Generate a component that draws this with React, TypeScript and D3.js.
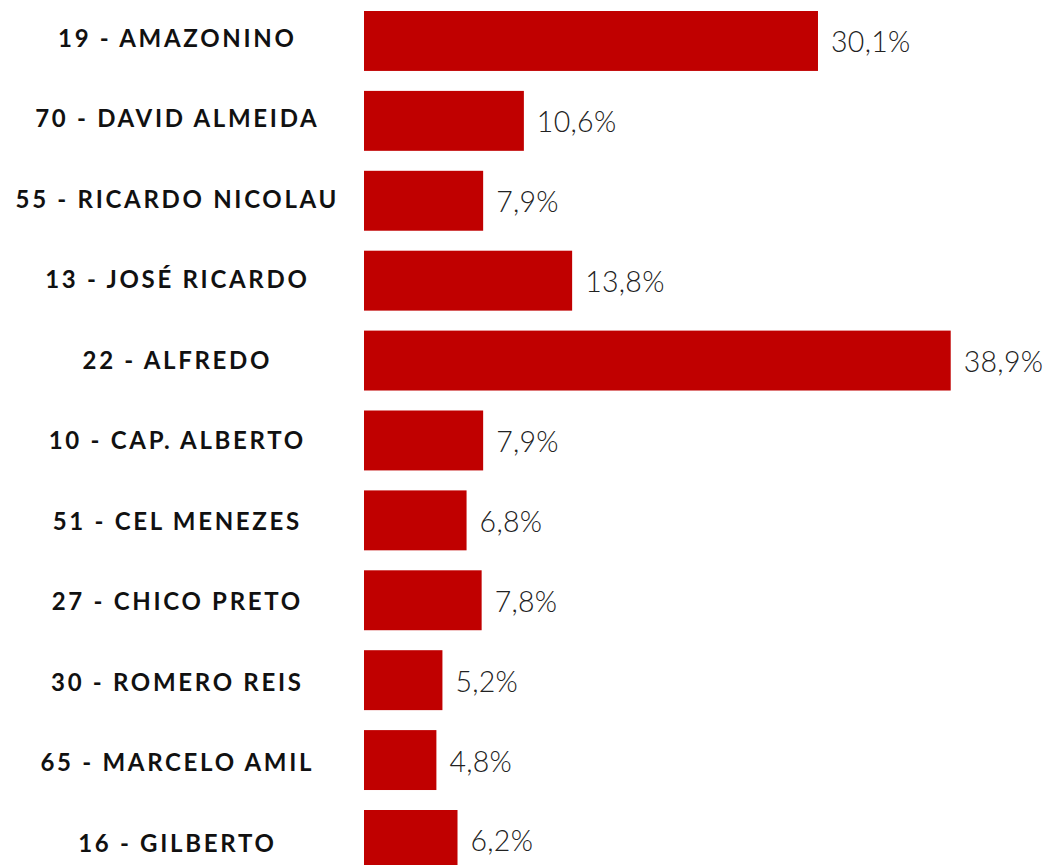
import React from "react";
import * as d3 from "d3";

const candidates = [
  "19 - AMAZONINO",
  "70 - DAVID ALMEIDA",
  "55 - RICARDO NICOLAU",
  "13 - JOSÉ RICARDO",
  "22 - ALFREDO",
  "10 - CAP. ALBERTO",
  "51 - CEL MENEZES",
  "27 - CHICO PRETO",
  "30 - ROMERO REIS",
  "65 - MARCELO AMIL",
  "16 - GILBERTO",
];
const values = [30.1, 10.6, 7.9, 13.8, 38.9, 7.9, 6.8, 7.8, 5.2, 4.8, 6.2];
const valueLabels = ["30,1%", "10,6%", "7,9%", "13,8%", "38,9%", "7,9%", "6,8%", "7,8%", "5,2%", "4,8%", "6,2%"];

export default function App() {
  const W = 1052;
  const H = 865;
  const x = d3.scaleLinear().domain([0, 40]).range([364, 364 + 603.3]);
  const y = d3
    .scaleBand<string>()
    .domain(candidates)
    .range([11, 11 + 79.9 * 10.75])
    .paddingInner(0.25)
    .paddingOuter(0);
  const yLabel = d3.scalePoint<string>().domain(candidates).range([37.5, 842]);
  const bw = y.bandwidth();
  const ls = 2.7;
  return (
    <svg
      width={W}
      height={H}
      style={{ position: "absolute", left: 0, top: 0, background: "#fff" }}
    >
      {candidates.map((c, i) => {
        const y0 = y(c)!;
        const cy = y0 + bw / 2;
        return (
          <g key={c}>
            <rect x={x(0)} y={y0} width={x(values[i]) - x(0)} height={bw} fill="#C00000" />
            <text
              x={176 + ls / 2}
              y={yLabel(c)!}
              textAnchor="middle"
              dominantBaseline="central"
              fontFamily="Lato"
              fontWeight={700}
              fontSize={24}
              letterSpacing={ls}
              fill="#111"
            >
              {c}
            </text>
            <text
              x={x(values[i]) + 13}
              y={cy + 0.5}
              dominantBaseline="central"
              fontFamily="Lato"
              fontWeight={300}
              fontSize={28.5}
              letterSpacing={0.3}
              fill="#222"
            >
              {valueLabels[i]}
            </text>
          </g>
        );
      })}
    </svg>
  );
}
